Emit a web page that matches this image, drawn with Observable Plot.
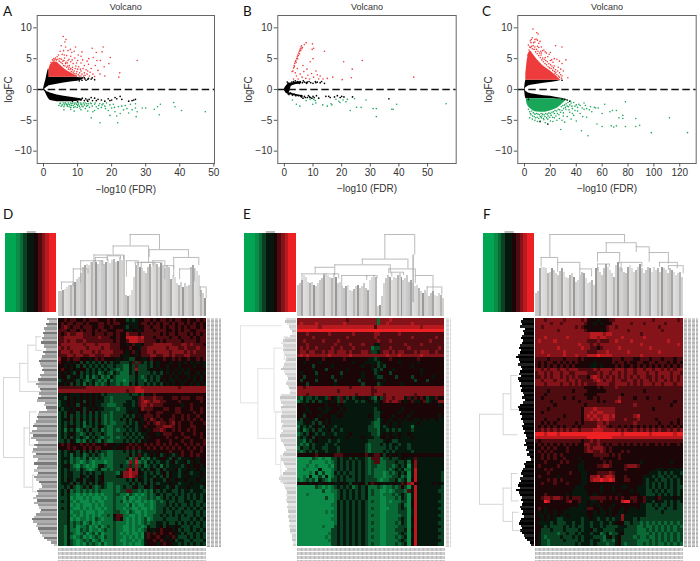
<!DOCTYPE html>
<html><head><meta charset="utf-8">
<script src="https://cdn.jsdelivr.net/npm/d3@7"></script>
<script src="https://cdn.jsdelivr.net/npm/@observablehq/plot@0.6"></script>
<style>
html,body{margin:0;padding:0;background:#fff}
#root{position:relative;width:700px;height:561px;overflow:hidden;font-family:"Liberation Sans",sans-serif}
#root svg{position:absolute;background:transparent;overflow:visible;font-family:"Liberation Sans",Arial,sans-serif}
.letter{position:absolute;font:13.5px "Lato",sans-serif;color:#111}
</style></head><body><div id="root"></div>
<script>
// ---------- Volcano A ----------
const redBandA=[[1.6,2,3.2],[2,2,4],[3,2,4.5],[4,2,4.4],[5,2,3.9],[6,2,3.4],[7,2,3],[8,2,2.7],[9,2,2.4],[10,2,2.15]];
const blackUpA=[[0,0,0.1],[0.3,0.05,0.8],[0.7,0.2,1.6],[1,0.35,2.4],[1.4,0.5,3.3],[1.65,0.6,3.3],[1.7,0.6,2],[4,0.85,2],[6,1.05,2],[8,1.2,2],[10,1.35,1.95],[11.5,1.6,1.85]];
const blackLoA=[[0,-0.05,0],[0.5,-0.4,-0.1],[1,-1,-0.35],[1.5,-1.5,-0.45],[2,-1.8,-0.55],[4,-2,-0.9],[6,-2,-1.1],[8,-2,-1.25],[10,-1.9,-1.4],[11.5,-1.8,-1.6]];
const redA=[[5.8,8.6],[6.6,8.1],[6.3,7.7],[5.2,7.1],[6.5,6.9],[9.4,6.9],[17.5,6.9],[7.9,6.5],[11.3,6.1],[14.3,6.7],[15.5,6],[17.2,6.1],[19.6,5.2],[19.2,4.2],[27.5,4.7],[22.4,2.7],[22.1,2],[16.7,4.7],[15.7,4.7],[14.6,5.2],[13.3,5],[12.8,4.6],[11,5.4],[10.2,5.6],[9,6.2],[8.3,6],[7.2,6.3],[5.9,6.3],[4.9,6.2],[4.4,5.6],[5.5,5.7],[6.8,5.5],[8,5.4],[9.2,5.1],[10,4.7],[7.5,4.9],[6.2,5.1],[11,4.3],[12,3.9],[13.2,4.1],[10.3,3.7],[8.7,4.2],[14,3.4],[15.2,3.9],[17.8,3.7],[13,3],[12,2.7],[11,3],[10,3.3],[14.5,2.5],[16.6,2.5],[18,2.2],[15,2.1],[13.5,2.2],[12.2,2.3],[11,2.2],[9.5,3.8],[8.5,3.6],[7.6,3.9],[4,5.3],[3.5,5.1],[3,5],[9,3],[9.6,2.6],[10.6,2.7],[11.6,3.4],[6.6,4.4],[7,4.3],[8,4.5],
[2.2,4.4],[2.6,4.8],[3.1,4.7],[3.4,4.9],[3.8,4.8],[4.2,4.9],[4.6,4.6],[4.8,5],[5.1,4.4],[5.3,4.9],[5.5,4.2],[5.7,4.6],[5.9,3.9],[6,4.7],[6.3,3.8],[6.5,4.2],[6.8,3.6],[7.1,3.8],[7.3,3.3],[7.5,3.6],[7.8,3.2],[8,3.4],[8.2,2.9],[8.5,3.2],[8.7,2.8],[9,2.6],[9.3,3.4],[9.5,2.3],[9.8,2.9],[10.2,2.4],[10.5,2.2],[10.8,3.3],[11.3,2.5],[11.8,2.2],[12.5,3.2],[12.8,2.5],[13.7,2.8],[16,3.1],[7.2,4.7],[8.4,4.8],[9.7,4.3],[11.5,4.8],[6.1,5.6]];
const blackA=[[10.5,1.4],[11,1.8],[11.3,1.5],[12,1.9],[12.5,1.5],[13.2,1.8],[14,1.7],[15,1.6],[14.3,1.9],[11.5,1.9],[12.2,1.7],[13,1.65],
[8,-1.4],[8.5,-1.9],[9,-1.5],[9.5,-1.7],[10,-2],[10.4,-1.5],[11,-1.7],[11.4,-1.4],[12,-1.8],[12.4,-1.5],[12.8,-1.7],[13,-1.9],[13.4,-1.6],[14,-1.3],[14.4,-1.8],[15,-1.4],[15.5,-1.8],[16,-1.6],[17,-1.7],[18,-1.9],[19,-1.5],[19.5,-1.8],[20,-1.7],[21,-1.3],[21.5,-1.5],[22.5,-1.1],[23,-1.6],[25,-1.9],[26,-1.8],[26.5,-1.7],[27,-1.6]];
const greenA=[[4.5,-2.6],[5,-2.2],[5.5,-2.5],[6,-2.8],[6.3,-2.2],[6.7,-2.4],[7,-2.7],[7.3,-2.2],[7.7,-2.5],[8,-2.9],[8.3,-2.3],[8.7,-2.6],[9,-2.2],[9.3,-2.8],[9.7,-2.4],[10,-2.6],[10.3,-2.2],[10.7,-3],[11,-2.4],[11.3,-2.7],[11.7,-2.2],[12,-2.5],[12.3,-3.1],[12.7,-2.3],[13,-2.6],[13.5,-2.9],[14,-2.3],[14.5,-3.6],[14,-4.6],[15,-2.4],[15.5,-2.8],[16,-3.1],[16.5,-2.3],[16.6,-5.4],[17,-2.9],[17.5,-2.3],[18,-2.7],[18.5,-2.2],[19,-3.4],[19.5,-4.2],[20,-3],[20.5,-2.4],[21,-3.6],[21.5,-4.3],[21.8,-5.4],[22,-2.8],[22.5,-3.9],[23,-2.7],[24,-2.6],[24.5,-3.1],[25,-3.8],[25.5,-2.4],[26,-3.3],[27,-2.3],[27,-3],[27.2,-4.4],[27.5,-3.6],[29,-3],[30,-3],[32.5,-3.2],[33.5,-2.8],[34,-4.1],[34.3,-2.4],[38.2,-2.1],[38.6,-2.8],[40.5,-3.4],[47.5,-3.6],[6,-3.3],[8,-3.2],[9,-3.5],[11,-3.3],[13,-3.5],[15,-3.4],
[4.8,-2.3],[5.2,-2.7],[5.8,-2.2],[6.1,-2.5],[6.5,-2.2],[6.9,-2.5],[7.2,-2.4],[7.5,-2.8],[7.9,-2.2],[8.2,-2.6],[8.5,-2.2],[8.9,-2.9],[9.1,-2.4],[9.5,-2.2],[9.9,-2.9],[10.2,-2.4],[10.5,-2.7],[10.9,-2.2],[11.2,-2.4],[11.6,-2.8],[12.2,-2.2],[12.6,-2.7],[13.2,-2.3],[13.8,-2.2],[14.3,-2.7],[15.2,-2.2],[16.2,-2.6],[17.2,-2.5],[18.2,-3.1],[19.5,-2.5],[20.8,-2.9],[23.5,-3.3]];
// ---------- Volcano B ----------
const blackBlobB=[[0,-0.1,0.1],[0.4,-0.5,0.4],[0.9,-0.7,0.7],[1.4,-0.6,1],[1.9,-0.35,1],[2.4,0.55,1],[3.5,0.75,1.15],[5,0.85,1.25],[6,0.95,1.2]];
const blackBlobLoB=[[1.4,-0.8,-0.5],[2.4,-0.9,-0.6],[3.5,-1,-0.75],[5,-1.15,-0.9],[6.5,-1.25,-1]];
const redB=[[3,3],[3.2,3.5],[3.4,3.9],[3.6,4.2],[3.8,4.5],[4,4.7],[4.3,5],[4.5,5.3],[4.7,5.6],[5,5.9],[5.2,6.2],[5.4,6.4],[5.6,6.6],[5.8,6.9],[6,7.1],[6.3,6.8],[7,7.3],[7.6,7.6],[9.8,7.4],[10.2,6.7],[9.7,6.5],[14,6.2],[20.7,4.5],[27.2,4.7],[23.7,3.3],[23.4,1.9],[20.2,1.6],[45.2,2],[16.9,2],[10,5],[6.5,3.9],[7.9,3.3],[2.7,2.9],[9,4.5],[4.2,2.2],[4.8,1.7],[5.5,2.5],[6.2,2],[6.8,2.9],[7.5,1.8],[8.2,2.3],[8.8,1.7],[9.5,2.6],[10.2,2],[11,3],[11.5,2.4],[12,1.7],[12.5,2.2],[13.5,1.7],[15,1.8],[3.2,1.7],[3.8,2.7],[4.5,3.4],[3.5,3.7],[4.1,4.4],[4.6,5],[4.9,5.5],[5.3,5.8],[5.7,6.3],[6.1,6.6]];
const blackB=[[0.2,0],[0.4,0.2],[0.5,-0.2],[0.6,0.4],[0.7,-0.4],[0.8,0.1],[0.9,0.6],[1,-0.5],[1.1,0.3],[1.2,0.8],[1.3,-0.7],[1,1.2],[1.4,1],[1.6,-0.8],[1.8,0.6],[2,1],[2.2,-0.6],[2.4,0.8],[2.6,1.2],[2.8,-0.9],[3,0.9],[3.2,1.3],[3.4,-0.8],[3.6,1],[3.8,1.4],[4,-1],[4.3,1.1],[4.6,1.3],[4.9,-1],[5.2,1],[5.5,1.3],[5.8,-1.1],[6,-1.2],[6.3,1.1],[6.6,1.4],[7,-1.1],[7.3,-1.3],[7.6,1.1],[8,1.2],[8.4,-1],[8.8,-1.2],[9.2,1.1],[9.6,-1.4],[10,1],[10.4,-1.3],[10.8,1.3],[11.2,-1],[11.5,1.2],[12,-1.4],[12.5,1.1],[13,1.3],[14,1],[14.5,-1.1],[15.5,-1.1],[16,-1.3],[17.5,-1.2],[18.5,-1],[19.5,-1.3],[20,-1.1],[20.8,-1.2],[23.8,-1.2],[36.5,-1.5],[7,1.2],[7.8,1],[8.6,1.3],[9,-1.3],[10,-1.1],[11,1.1],[6,-1],[6.5,-1.4],[8,-1.3]];
const greenB=[[2.8,-1.7],[4.2,-2.4],[5.4,-2.7],[7.6,-1.8],[9,-1.6],[9.9,-2.4],[10.3,-1.6],[10.8,-1.8],[11,-2.2],[13.4,-2.5],[15,-2.7],[16.3,-2.3],[16.6,-2.5],[18,-1.6],[19,-1.9],[19.4,-2.1],[20.5,-1.7],[21.5,-2],[22,-1.6],[23,-3.4],[24.5,-1.5],[25.2,-2.9],[26.8,-2.9],[28.5,-1.7],[31,-3.1],[32.1,-3.1],[32.1,-4.4],[37.5,-3.2],[38,-3.2],[39.2,-2.4],[56.5,-2.3]];
// ---------- Volcano C ----------
const redBandC=[[1,1.5,2.6],[2,1.5,4.6],[3,1.5,5.8],[4,1.5,6.2],[5,1.5,6.2],[7,1.5,5.6],[10,1.5,4.8],[14,1.5,3.9],[18,1.5,3.3],[20,1.5,3],[24,1.5,2.3],[27,1.5,1.7],[28,1.5,1.55]];
const blackUpC=[[0,0,0.1],[0.5,0.1,1],[1,0.3,1.5],[3,0.55,1.5],[5,0.7,1.5],[10,0.85,1.5],[15,1,1.5],[20,1.15,1.5],[25,1.3,1.5],[28,1.45,1.5]];
const blackLoC=[[0,-0.1,0],[0.5,-1,-0.1],[1,-1.5,-0.3],[3,-1.5,-0.55],[5,-1.5,-0.7],[10,-1.5,-0.85],[15,-1.5,-1],[20,-1.5,-1.1],[25,-1.6,-1.3],[31,-1.6,-1.5]];
const greenBandC=[[1.5,-1.8,-1.5],[2,-2.4,-1.5],[3,-2.8,-1.5],[5,-3.2,-1.5],[8,-3.6,-1.5],[12,-3.7,-1.5],[16,-3.7,-1.5],[20,-3.5,-1.5],[25,-3.1,-1.6],[28,-2.6,-1.6],[31,-2,-1.6],[33,-1.7,-1.6]];
const redC=[[6,8.4],[6.5,9.8],[8,7.7],[9.5,9.2],[10.5,9],[9,8.2],[10,8],[11,7.5],[12,7.8],[7,7.6],[5,7.6],[4.5,7.9],[5.3,8.1],[13,6.9],[14,6.3],[15,6.4],[16,6.1],[17,5.9],[19,5.7],[20,6],[24,7.1],[29,6.9],[32,4.8],[29,4.2],[27,4.6],[25,4.9],[23,5],[22,4.4],[21,4.8],[18,5.3],[26,3.6],[28,3.3],[30,3],[33.5,1.9],[23,3.8],[24,3.2],[27,2.7],[29,2.2],[11,6.8],[12.5,6.2],[8,8.1],[3,7.2],
[2.5,5.6],[3.5,6.4],[4,6.9],[4.7,6.8],[5.5,7],[6,6.6],[6.7,7.1],[7.4,6.5],[8,6.9],[8.6,6.1],[9.2,6.5],[9.8,5.8],[10.4,6.2],[11,5.5],[11.6,5.9],[12.2,5.2],[12.8,5.6],[13.4,4.8],[14,5.1],[14.6,4.5],[15.2,4.9],[15.8,4.2],[16.4,4.7],[17,4],[17.6,4.5],[18.2,3.7],[18.8,4.2],[19.4,3.5],[20,4],[20.6,3.4],[21.2,3.8],[21.8,3.1],[22.4,3.5],[23,2.9],[23.6,2.6],[24.2,2.8],[25,2.4],[25.6,3],[26.2,2.2],[27,2],[28,2.4],[28.6,1.8],[20,4.7],[16,5.2],[13,5.9],[10,7]];
const greenC=[[4,-4.6],[6,-4.8],[8,-5],[10,-5.2],[12,-5.1],[13,-4.6],[15,-4.9],[16,-5.4],[18,-4.8],[20,-5.1],[22,-5.2],[23,-4.6],[25,-5],[27,-4.7],[28,-6.5],[29,-5],[30,-4.3],[31,-5.3],[33,-4.4],[35,-3.7],[36,-4.8],[37,-3.1],[38,-4.2],[39,-2.7],[40,-5.1],[41,-3.5],[42,-2.4],[43,-3.9],[44,-6.7],[45,-4.4],[46,-3.2],[47,-2.6],[48,-4.5],[49,-7.5],[50,-3.3],[51,-2.8],[52,-3.6],[54,-2.9],[55,-3],[57,-3],[56,-5.6],[60,-3.9],[60,-6],[62,-2.4],[66,-3.6],[67,-5.9],[68,-3.4],[69,-6.1],[71,-5.9],[71,-3.4],[73,-4.6],[76,-4.2],[76,-4.7],[78,-6],[78,-2],[86,-4.7],[86,-6],[89,-5.8],[98,-7],[112,-4.6],[126,-7],[30,-3.8],[32,-3.2],[34,-2.8],[36,-2.2],[37,-3.9],[40,-2.5],
[3,-3.2],[4,-3.6],[4.6,-3.9],[5,-4.1],[5.6,-3.5],[6.2,-4.3],[6.8,-3.8],[7.4,-4.4],[8,-4],[8.6,-4.6],[9.2,-3.9],[9.8,-4.5],[10.4,-4],[11,-4.7],[11.6,-4.1],[12.2,-4.4],[12.8,-3.9],[13.4,-4.3],[14,-4],[14.6,-4.7],[15.2,-4.1],[15.8,-4.4],[16.4,-3.9],[17,-4.6],[17.6,-4],[18.2,-4.3],[18.8,-3.8],[19.4,-4.5],[20,-3.9],[20.6,-4.2],[21.2,-3.7],[21.8,-4.5],[22.4,-3.6],[23,-3.9],[23.6,-3.4],[24.2,-4.3],[24.8,-3.5],[25.4,-3.9],[26,-3.2],[26.6,-4.1],[27.2,-3.3],[27.8,-3.7],[28.4,-2.8],[29,-3.4],[29.6,-2.6],[30.2,-3.1],[31,-2.5],[31.6,-2.9],[32.2,-2.3],[33,-2.7],[33.6,-2.1],[34.4,-3.3],[35,-2.5],[35.6,-1.9],[36.6,-2.7],[38,-2.1],[39,-3.4],[41,-2.9],[43,-2.6],[44.6,-3],[46,-2.2],[48,-3.1]];
const blackC=[[29,-1.55],[31,-1.6],[33,-1.7],[35,-1.9],[29,1.5],[3,-1.6],[12,-5.2],[18,-5.6]];
// ---------- Axis ticks ----------
const ticksA=[0,10,20,30,40,50], ticksB=[0,10,20,30,40,50], ticksC=[0,20,40,60,80,100,120], ticksY=[-10,-5,0,5,10];
const xDomainA=[-1.85,50.2], xDomainB=[-2.3,60], xDomainC=[-5.2,132.7];
// ---------- Heatmaps, levels 0 bright green .. 4/5 black .. 9 bright red ----------
const heatD=[
"556566 556566 655565 655534 345566 565665 656655 655656","565665 665655 566565 665544 445665 656566 565665 656565","567656 656665 566556 555435 445566 566565 665656 566565","666566 565665 656655 566544 554566 656665 565656 655666",
"656766 776665 666566 565576 665666 666565 665666 565656","667777 776666 676665 565588 887866 656666 566566 656566","667677 667666 666666 565568 887766 665656 666656 666566","677777 776777 677776 665545 644566 677777 766677 676665",
"767677 777677 776776 665556 554667 777776 777667 666766","677767 767776 767777 666545 645667 767777 677776 767666","666776 776677 666776 665445 545666 776677 676667 766666","755656 655545 656555 545443 355445 655565 565655 655656",
"655454 535343 435353 443334 636434 354555 455454 545454","554545 353434 343433 433224 363334 354554 555455 554554","565545 455343 434343 323224 373334 545454 554545 455555","454543 534343 423432 432224 353333 434354 545454 455454",
"455345 434242 342324 322223 343234 343455 454555 454545","345454 343234 323242 322123 343324 343545 445454 554545","454535 342434 232343 323224 353343 434354 545545 545454","666666 666777 777777 777777 788777 777777 777677 777777",
"777777 777777 777777 777767 788877 777777 777777 777777","444544 454545 453433 333334 334354 565555 555555 555555","443545 454545 454332 333333 446766 676655 566566 655665","344545 453545 444332 333344 346787 677665 555655 555565",
"344545 354545 443322 233444 346776 766655 555545 565555","434454 553454 544333 323344 445766 655566 556655 565565","343545 353535 343332 333345 445556 556655 556655 556565","343534 343434 343232 333434 354566 656555 565565 655655",
"344535 353435 353232 334353 455465 765655 665565 656565","343434 342434 343232 233343 435456 567665 675655 565556","343545 342334 354322 333434 434565 556677 765655 566555","342434 234353 342322 323343 434554 566765 565655 656555",
"343454 323434 334322 333434 343445 554566 655565 556565","343534 343243 432332 323343 434354 555556 556556 655565","334354 232434 324322 333434 343545 556555 655565 565556","565655 565656 555655 545556 565565 656565 656556 565656",
"555656 556565 665555 455565 656556 565656 565655 656565","343454 353535 343322 333434 343445 455555 655565 565565","343424 342343 432322 333335 346434 545345 434565 565655","344423 232423 232222 333342 374232 434554 354344 455455",
"343423 212321 222122 333327 382324 343443 453445 345455","344532 132121 245322 334336 373423 434243 444434 545545","343433 243212 342232 333368 474343 543534 445344 544544","343443 343434 334333 324778 775434 343453 544345 434454",
"343443 354354 345333 345778 764434 434353 544344 544454","343543 453445 345333 333343 535434 354435 445445 444544","344435 343534 354322 333334 343435 343444 544344 454445","334353 234353 234322 323433 453354 345443 453444 544434",
"343523 232323 232222 323366 332323 243434 433434 434443","343422 121212 121222 332213 212123 234343 343434 343434","333412 112121 112122 322131 121223 232343 434334 343434","343421 211121 211222 323121 211212 123234 334334 434334",
"333412 121112 121222 322213 121122 123334 343433 434343","343421 121212 112122 322122 112112 123343 434334 343434","333412 212111 211222 332213 211212 223343 343343 334343","333421 212121 212232 566221 121212 233434 343434 334343",
"333412 122121 321222 465212 121231 233343 333433 343434","333423 231231 212222 322212 121232 334434 334343 434343","332423 122312 131232 322112 122124 334535 445433 343343","332422 132312 212322 322112 121235 445655 545343 343434",
"332432 123123 131222 321212 112146 465655 654434 334343","332421 231212 321322 322121 212146 556554 564333 434343","332432 123231 231222 321122 121245 565645 453443 343334","332432 121323 213122 322121 211245 554565 544343 434343"];
const heatE=[
"777777 777777 777767 777777 772777 877777 777777 777777","787777 877777 777877 777777 772778 777777 787777 777777","888888 878888 888888 888888 868888 888888 888878 888888","999999 999999 999999 999999 999999 999999 999999 999999",
"666766 666676 666666 766666 677666 666766 666666 666666","666667 666666 666676 666666 676666 666666 676666 666766","667666 667666 676666 666666 667666 766666 666666 676666","666766 666666 766667 666766 644666 666667 666676 666666",
"676766 766667 667666 766666 233666 766666 766666 666676","677677 667677 677767 666776 334677 676776 667677 766766","787877 777787 777778 777777 777778 777877 777787 777777","555655 556555 555655 555554 434555 655555 555655 555555",
"554555 545555 555555 455544 443455 555455 555455 555555","555553 555554 555555 555455 453435 555555 545555 555555","555554 555355 555545 555555 434355 545555 555545 555555","545555 355555 553555 555455 534555 355555 555545 555555",
"553555 455553 554555 555455 543355 553555 535555 554555","535555 355555 355555 553555 554545 555555 553555 355555","555355 555555 455555 555355 553455 555545 555555 555555","776777 777777 777776 777777 677777 777777 777777 777777",
"777777 777777 767777 777777 667777 777777 777777 777777","777677 777777 777777 767777 677767 777777 776777 777777","324334 344365 436435 345454 325367 767774 646565 344655","234343 534454 536344 434345 434567 677654 564456 345477",
"554555 555455 545444 444444 444555 555555 555555 555545","555455 545445 554544 444444 434555 555545 555555 555555","554545 554455 545444 444444 433455 555455 545555 555555","553555 545554 455444 444445 433555 545555 455555 555545",
"435454 355454 444444 444444 432455 455454 554454 544544","334543 535454 444444 444444 322454 544544 444544 444444","243434 543544 344444 444443 322434 544544 424444 444444","342343 534453 443444 444443 332443 434344 434444 444444",
"234354 343444 344445 444444 332454 544544 544444 444444","343453 545445 444454 444544 433554 554544 454444 444444","332434 544434 434444 444443 333345 433444 444444 444444","323243 444344 344444 444432 333434 344344 344444 444444",
"243343 443344 434444 444432 333334 343444 344444 444444","323434 344344 434444 444432 333343 434444 434444 444444","555555 655555 666555 555565 566535 455455 555555 555555","111113 212113 343443 434432 666233 433454 446444 444444",
"111121 111212 343434 343432 366223 334334 257444 444444","111211 211121 343434 343432 332223 323434 147444 444444","112111 141112 343434 343432 322223 234342 248444 444444","111121 413112 434343 343432 322212 323434 148444 444443",
"112141 131412 343434 343433 322212 233423 148444 444443","212323 143213 343433 343433 332122 334234 158444 444443","555545 545545 445443 545535 655545 455465 785544 445454","111111 321212 343434 234342 223212 232353 148444 444443",
"111111 113112 234343 434342 322112 123332 648444 444433","111211 111111 234343 434342 322122 232343 148444 444443","111111 111311 234343 434342 222112 223243 148444 444443","111111 111111 243434 343432 322112 122233 158444 444433",
"111111 111112 243434 343432 222112 222342 158444 444443","111111 111111 243434 343432 322111 222343 148444 444433","111111 111212 243434 343432 222112 222333 148444 444443","111111 111111 243434 343432 322112 222233 148444 444433",
"111111 111112 243434 343432 222112 222343 158444 444443","111111 111111 243434 343432 322112 223243 148444 444433","111111 112111 343434 343432 222112 222333 148444 444443","111111 111113 343434 343432 322112 223334 158444 444433",
"111111 111123 343434 343432 222112 222343 148444 444443","111111 111213 343434 343432 322112 223234 148444 444433","111111 111123 343434 343432 222112 222343 158444 444443","111111 111113 343434 343432 322112 223234 158444 444433"];
const heatF=[
"777677 777677 777675 554555 667777 777777 776777 777767","777776 776777 777765 545455 577777 767776 777777 677777","776777 777777 767655 555556 776777 777777 777767 777777","777777 767777 777765 555456 777777 677777 777776 777777",
"777777 777777 777777 888878 877777 777767 777777 777777","777877 777787 777777 887887 777787 777778 777777 777777","787777 877777 777776 667666 778777 787777 777777 787777","777777 777777 778777 676777 777777 777787 777777 777787",
"777777 787777 777877 665677 777877 777777 787777 777777","778777 777877 777776 667778 777777 877777 777787 777777","777787 777877 787778 889888 877777 777787 777777 777777","666656 666566 665655 555555 566656 665566 656665 666566",
"656566 565656 565555 545555 565665 655665 566566 656565","656565 656565 655555 445455 556565 565656 565656 565656","776767 767767 776666 676777 767776 776776 776776 767677","677676 776776 677776 667677 677676 776777 677677 776776",
"667676 776767 676665 787676 767676 767677 667676 776767","776777 677767 767666 678767 767766 776767 767677 676767","777677 776776 767676 667777 667777 676767 776776 777677","666666 666666 666655 556566 667666 666666 666666 666666",
"666656 666666 566665 555556 666666 666665 666666 666666","666566 666666 666655 556666 666656 666666 666666 666666","665666 666566 566665 565666 666766 665666 566656 666666","666665 666666 665666 665656 667866 666666 666666 666566",
"666666 566666 666656 666666 666666 667666 666666 665666","666656 666666 666577 787777 776666 666666 665666 666666","665666 666666 666577 878877 776666 666666 666666 666666","666666 666566 666578 787788 786666 667866 666666 666666",
"666566 656666 666577 878788 776667 666766 666566 666656","665656 566666 656566 667767 666666 667666 666656 665656","656565 656566 565666 668776 566565 656565 656565 656565","667676 767676 776777 788877 776767 667676 767676 676767",
"999899 989999 999999 999999 999989 999999 989999 999899","888888 888888 888889 999999 988888 888888 888888 888888","656666 666666 666566 767666 666666 666666 666666 666666","565656 565656 565577 667656 566565 656565 655656 565565",
"556565 655565 555567 677765 655555 555555 555555 555555","565656 555565 555567 766765 655565 655555 555555 555555","556565 656555 555555 566666 565655 555555 555555 555555","556565 655655 554555 555655 555655 555555 555555 555555",
"555655 556565 555455 555565 655555 555545 555555 554555","565555 565555 554455 556677 655556 777655 555555 555555","555656 555555 554455 555555 555556 555555 555444 544444","555565 555556 555445 556666 765555 555555 544434 343443",
"565555 545555 555445 778678 875556 555554 443433 434344","555565 656555 555445 788988 985556 655554 344343 343434","556555 655565 555445 555555 555555 555554 343434 343434","555555 555555 544455 555455 545544 555444 343434 343433",
"555555 555555 444445 555455 545555 545444 334343 433434","555655 555545 444445 545555 555455 555544 333434 343434","556776 776565 666444 666665 656565 566556 444564 444544","555985 555567 556445 445655 555589 956556 443544 343434",
"555555 555555 554445 454555 545555 555544 334343 343433","565455 555554 444446 655455 455545 544544 333433 433433","545455 455444 444445 545445 455445 444444 333334 333333","544545 454454 444445 544445 454474 444444 333333 333333",
"554545 433444 444344 543443 434474 443433 333333 333333","544443 433344 344344 344344 345553 343323 232323 232323","554343 333434 343344 344343 333444 333223 223232 323232","553334 333433 334344 534433 334443 333222 323232 323233",
"543333 323343 343444 344234 233453 333222 232323 232323","543233 334333 434344 433324 534533 332322 322323 232323","543323 333433 334344 344323 324533 333222 232323 232323","543323 333333 343444 343332 334532 333223 232322 323232"];
const levelColors=["#00a651","#0b8a48","#0a6a36","#0a3f22","#06170e","#1c0507","#4f0c10","#85141a","#b81a20","#ed2024"];
const keyLevels=[0,0,0,1,2,3,4,4,5,6,7,8,9,9];
// ---------- Dendrogram leaves (height, % of dendrogram) ----------
const colLeavesD=[30,30,32,33,35,38,38,40,42,45,48,53,60,62,63,62,66,66,68,66,64,67,68,64,66,70,65,68,70,66,67,72,68,74,25,24,26,32,48,62,66,60,58,55,52,60,64,60,62,66,63,60,65,62,58,62,60,45,50,47,40,38,42,35,40,36,38,60,62,58,55,50,32,28,22];
const colLeavesE=[38,40,44,50,48,42,40,42,38,36,40,44,46,50,52,50,48,46,52,48,40,42,36,34,36,38,32,30,33,36,38,34,36,40,34,32,44,48,50,48,12,14,24,40,46,50,48,44,48,46,50,52,48,44,46,50,42,44,40,36,38,34,30,28,32,28,24,28,30,26,24,28,26,22];
const colLeavesF=[28,30,58,60,60,58,52,54,58,56,52,50,55,58,54,48,46,50,52,48,42,44,50,54,52,46,40,42,44,38,58,60,54,50,58,64,60,56,52,48,62,66,60,58,54,52,60,62,58,54,56,60,64,58,52,56,60,58,54,60,56,58,54,60,58,56,52,58,56,54,50,52,54,48];
const rowLeavesD=[18,16,20,18,24,22,26,24,28,26,30,24,24,20,26,22,28,30,34,32,30,26,28,24,32,30,36,34,40,36,32,30,34,30,36,38,22,24,20,18,34,36,38,36,40,42,44,38,46,50,44,48,40,36,42,38,44,46,40,44,36,38,42,36,38,42,36,38,42,40,34,30,28,34,38,36,40,44,38,42,36,34,30,32,40,42,46,44,38,40,36,34,32,28,24,18,12,6];
const rowLeavesE=[18,20,16,12,10,8,8,10,20,24,26,24,22,24,22,20,18,18,20,22,24,26,22,20,16,14,16,18,14,12,10,10,26,28,28,26,24,26,26,25,25,26,26,27,24,25,26,24,26,28,28,26,24,22,20,18,22,24,26,26,24,22,20,16,20,24,28,30,26,24,22,20,18,16,18,16,18,16,14,16,14,14,12,14,12,12,10,12,10,10,10,8,8,8,6,5];
const rowLeavesF=[20,24,22,26,16,20,18,22,24,20,22,26,28,24,26,30,32,28,26,30,24,22,26,28,24,30,28,24,26,22,24,20,18,22,16,20,26,30,28,24,26,22,24,20,18,22,20,16,18,14,12,16,14,18,12,14,10,12,8,6,14,18,16,20,22,24,20,26,24,28,30,26,32,28,26,22,24,20,22,26,24,20,22,18,24,26,28,24,22,26,22,18,16,12,8,5];
// merges: [position 1, position 2, height, height below 1, height below 2]
const colMergesD=[[48.5,68.4,100,86,81.5],[37,61,86,75,66],[24,44,75,68,70],[61.4,88,81.5,72,72],[15,30,68,40,62],[52,70,66,62,60],[78,95,72,58,62],[82,92,58,45,42],[2,10,42,32,36],[10,20,58,40,52],[25,33,72,66,68],[33,42,74,68,70],[46,54,68,48,62],[56,64,66,58,62],[64,72,68,60,62],[72,78,62,45,48],[96,100,36,24,22]];
const colMergesE=[[59.3,79.6,100,70,75],[44,75,70,63,58],[25.3,63,63,60,52],[12,25.3,60,52,50],[3,18,52,44,46],[30,47,50,36,48],[62,80,58,52,50],[78.5,78.5,75,17,17],[80,92,50,40,30],[18,28,52,50,46],[47,54,50,44,46],[64,72,54,48,50],[88,98,36,28,26]];
const colMergesF=[[9.7,60.3,100,72,90],[3.8,15,72,60,66],[47.9,68.2,90,78,85],[42,57,78,66,64],[68.2,77,85,78,78],[77,90,78,66,64],[15,30,66,54,58],[58,72,66,54,60],[84,96,66,60,58],[30,38,58,50,48],[42,50,64,56,60],[90,100,62,56,52]];
const rowMergesD=[[25.9,61,100,70,62],[19.7,32,70,55,30],[11.7,27.8,55,40,30],[8,14,40,30,28],[48,74,62,52,46],[41,55.6,52,38,40],[68.7,76,46,40,36]];
const rowMergesE=[[3.2,37,100,26,69],[22,52.6,69,40,37],[13,41,40,22,25],[8,18,22,14,14],[41,64,37,26,28],[60,72,28,20,16]];
const rowMergesF=[[42,81.5,100,57,57],[33,51,57,43,30],[25,40,43,30,28],[74.4,89,57,42,40],[68,80,42,30,28],[85,93,40,28,24]];
// ---------- Shades ----------
const leafShadesLight=["#c9c9c9","#c4c4c4","#a9a5a2","#dedede","#dadada","#d6d6d6","#b8b5b2","#d2d2d2","#9c9896","#cfcfcf","#d4d4d4"];
const rowShadesD=["#9a9a9a","#c0c0c0","#7a7a7a","#adadad"];
const rowShadesE=["#dcdcdc","#c6c6c6","#e6e6e6","#d2d2d2"];
const rowShadesF=["#000000","#111111","#000000","#222222"];

const root=document.getElementById("root");
function place(svg,left,top){svg.style.left=left+"px";svg.style.top=top+"px";root.appendChild(svg);}
function letter(t,x,y){const d=document.createElement("div");d.className="letter";d.textContent=t;d.style.left=x+"px";d.style.top=y+"px";root.appendChild(d);}
const acc={x:d=>d[0],y:d=>d[1]};
const RED="#ee3b3b",GREEN="#1aa658";
function band(data,fill){return Plot.areaY(data,{x:d=>d[0],y1:d=>d[1],y2:d=>d[2],fill});}
function volcano({left,frameL,frameR,domain,ticks,bands,red,black,green}){
  const W=frameR-left+8,H=196;
  const svg=Plot.plot({width:W,height:H,marginLeft:frameL-left,marginRight:W-(frameR-left),marginTop:15,marginBottom:H-163,
    style:{background:"transparent",fontFamily:"Liberation Sans",color:"#333"},
    x:{domain,label:null},y:{domain:[-12,12],label:null},
    marks:[
      ...bands,
      Plot.dot(black,{...acc,r:0.85,fill:"#000"}),
      Plot.dot(red,{...acc,r:0.8,fill:RED}),
      Plot.dot(green,{...acc,r:0.8,fill:GREEN}),
      Plot.ruleY([0],{stroke:"#111",strokeWidth:1.7,strokeDasharray:"7.5,3.5"}),
      Plot.frame({stroke:"#666",strokeWidth:1}),
      Plot.axisX({ticks,tickSize:3.5,tickPadding:2,fontSize:10,label:"−log10 (FDR)",labelAnchor:"center",labelOffset:29,labelArrow:"none",tickFormat:d=>String(d),stroke:"#555"}),
      Plot.axisY({ticks:ticksY,tickSize:3.5,tickPadding:2,fontSize:10,label:"logFC",labelAnchor:"center",labelOffset:32.5,labelArrow:"none",stroke:"#555"}),
      Plot.text(["Volcano"],{frameAnchor:"top",dy:-12,fontSize:9,fill:"#333"})
    ]});
  place(svg,left,0);
}
volcano({left:0,frameL:36.7,frameR:214,domain:xDomainA,ticks:ticksA,
  bands:[band(blackUpA,"#000"),band(blackLoA,"#000"),band(redBandA,RED)],red:redA,black:blackA,green:greenA});
volcano({left:240,frameL:277.3,frameR:455.7,domain:xDomainB,ticks:ticksB,bands:[band(blackBlobB,"#000"),band(blackBlobLoB,"#000")],red:redB,black:blackB,green:greenB});
volcano({left:481,frameL:517.3,frameR:695.7,domain:xDomainC,ticks:ticksC,
  bands:[band(blackUpC,"#000"),band(blackLoC,"#000"),band(redBandC,RED),band(greenBandC,GREEN)],red:redC,black:blackC,green:greenC});

function key(x0,x1){
  const svg=Plot.plot({width:x1-x0,height:79,margin:0,x:{domain:d3.range(keyLevels.length),axis:null,padding:0,round:false},y:{axis:null,domain:[0,1]},
    color:{type:"ordinal",domain:d3.range(10),range:levelColors},
    marks:[Plot.barY(keyLevels,{x:(d,i)=>i,y1:0,y2:1,fill:d=>d,shapeRendering:"crispEdges"})]});
  place(svg,x0,233);
  const tick=Plot.plot({width:x1-x0,height:3,margin:0,x:{domain:[0,1],axis:null},y:{axis:null,domain:[0,1]},
    marks:[Plot.ruleY([0.5],{x1:0.42,x2:0.6,stroke:"#777",strokeWidth:1})]});
  place(tick,x0,230);
}
function colDendro(x0,x1,leaves,merges){
  const n=leaves.length;
  const svg=Plot.plot({width:x1-x0,height:82,margin:0,x:{domain:[0,100],axis:null},y:{domain:[0,100],axis:null},color:{type:"identity"},
    marks:[
      Plot.rect(leaves,{x1:(d,i)=>i/n*100,x2:(d,i)=>(i+1)/n*100,y1:0,y2:d=>d,fill:(d,i)=>leafShadesLight[i%leafShadesLight.length],shapeRendering:"crispEdges"}),
      Plot.ruleY(merges,{y:d=>d[2],x1:d=>d[0],x2:d=>d[1],stroke:"#aaa",strokeWidth:0.8}),
      Plot.ruleX(merges,{x:d=>d[0],y1:d=>d[2],y2:d=>d[3],stroke:"#aaa",strokeWidth:0.8}),
      Plot.ruleX(merges,{x:d=>d[1],y1:d=>d[2],y2:d=>d[4],stroke:"#aaa",strokeWidth:0.8})
    ]});
  place(svg,x0,234);
}
function rowDendro(x0,x1,leaves,merges,shades,line){
  const n=leaves.length;
  const svg=Plot.plot({width:x1-x0,height:228,margin:0,x:{domain:[100,0],axis:null},y:{domain:[100,0],axis:null},color:{type:"identity"},
    marks:[
      Plot.rect(leaves,{y1:(d,i)=>i/n*100,y2:(d,i)=>(i+1)/n*100,x1:0,x2:d=>d,fill:(d,i)=>shades[i%shades.length],shapeRendering:"crispEdges"}),
      Plot.ruleX(merges,{x:d=>d[2],y1:d=>d[0],y2:d=>d[1],stroke:line,strokeWidth:0.8}),
      Plot.ruleY(merges,{y:d=>d[0],x1:d=>d[2],x2:d=>d[3],stroke:line,strokeWidth:0.8}),
      Plot.ruleY(merges,{y:d=>d[1],x1:d=>d[2],x2:d=>d[4],stroke:line,strokeWidth:0.8})
    ]});
  place(svg,x0,318.3);
}
function heat(x0,x1,rows){
  const grid=rows.map(s=>[...s.replace(/ /g,"")]);
  const cells=grid.flatMap((s,r)=>s.map((v,c)=>({r,c,v:+v})));
  const svg=Plot.plot({width:x1-x0,height:228,margin:0,
    x:{domain:d3.range(grid[0].length),axis:null,padding:0,round:false},y:{domain:d3.range(rows.length),axis:null,padding:0,round:false},
    color:{type:"ordinal",domain:d3.range(10),range:levelColors},
    marks:[Plot.cell(cells,{x:"c",y:"r",fill:"v",shapeRendering:"crispEdges"})]});
  place(svg,x0,318.3);
}
function rowLabels(x0,x1,stroke){
  const lines=d3.range(0,228,1.3);
  const svg=Plot.plot({width:x1-x0,height:228,margin:0,x:{domain:[0,1],axis:null},y:{domain:[0,228],axis:null},
    marks:[Plot.ruleY(lines,{stroke,strokeWidth:1,strokeDasharray:"3,1"})]});
  place(svg,x0,318.3);
}
function colLabels(x0,x1){
  const lines=d3.range(0,x1-x0,1.3);
  const svg=Plot.plot({width:x1-x0,height:13,margin:0,x:{domain:[0,x1-x0],axis:null},y:{domain:[0,1],axis:null},
    marks:[Plot.ruleX(lines,{stroke:"#b4b4b4",strokeWidth:1,strokeDasharray:"3,1"})]});
  place(svg,x0,547.5);
}
key(5.3,56.7);colDendro(58.3,206,colLeavesD,colMergesD);rowDendro(2.5,56.7,rowLeavesD,rowMergesD,rowShadesD,"#ccc");heat(58.3,206,heatD);rowLabels(207,221,"#aaa");colLabels(58.3,206);
key(244,295.7);colDendro(297,444.3,colLeavesE,colMergesE);rowDendro(240,296,rowLeavesE,rowMergesE,rowShadesE,"#ddd");heat(297,444.3,heatE);rowLabels(446,451,"#ccc");colLabels(297,444.3);
key(482.7,534);colDendro(535,682.7,colLeavesF,colMergesF);rowDendro(479,534,rowLeavesF,rowMergesF,rowShadesF,"#ccc");heat(535,682.7,heatF);rowLabels(684,698,"#aaa");colLabels(535,682.7);
[["A",3,3],["B",243,3],["C",482,3],["D",3,206],["E",243,206],["F",483,206]].forEach(a=>letter(...a));
</script></body></html>
